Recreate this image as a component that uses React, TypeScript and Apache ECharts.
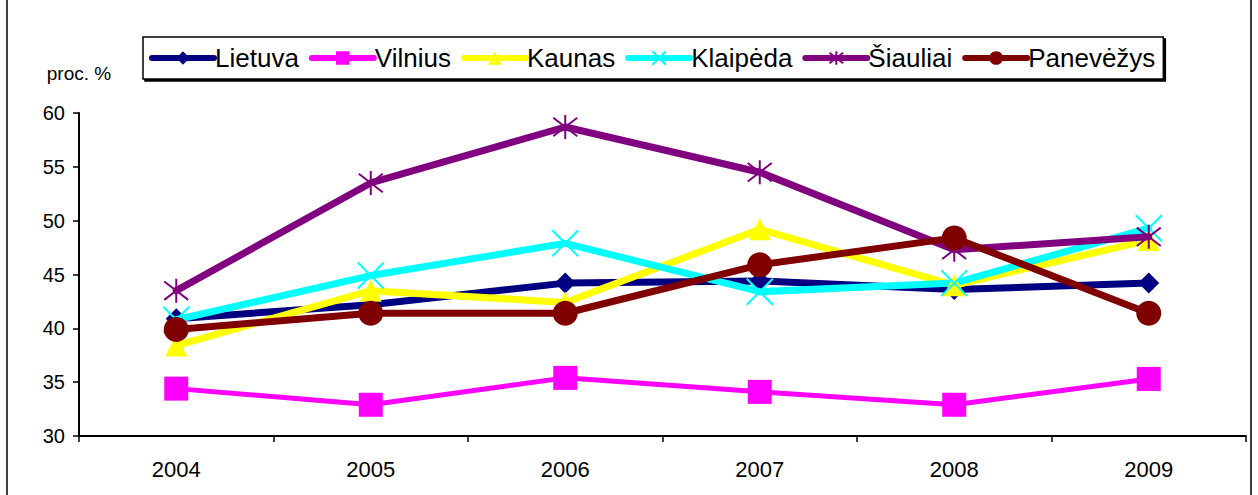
import React, { useEffect, useRef } from "react";
import * as echarts from "echarts";

const years = ["2004", "2005", "2006", "2007", "2008", "2009"];
const lietuva = [40.9, 42.2, 44.2, 44.4, 43.6, 44.2];
const vilnius = [34.4, 32.9, 35.4, 34.1, 32.9, 35.3];
const kaunas = [38.4, 43.5, 42.4, 49.2, 44.0, 48.2];
const klaipeda = [40.8, 44.9, 47.9, 43.4, 44.2, 49.3];
const siauliai = [43.5, 53.5, 58.7, 54.5, 47.3, 48.5];
const panevezys = [39.9, 41.4, 41.4, 45.9, 48.4, 41.4];

const FONT = "Liberation Sans, Arial, sans-serif";

export default function App() {
  const ref = useRef<HTMLDivElement>(null);
  useEffect(() => {
    const chart = echarts.init(ref.current!, null, { renderer: "svg" });
    const mk = (name: string, data: number[], color: string, symbol: string, size: number, extra: any = {}) => ({
      name,
      type: "line",
      data,
      symbol,
      symbolSize: size,
      lineStyle: { color, width: extra.lw ?? 7, cap: "round", join: "round" },
      itemStyle: { color, borderColor: color, borderWidth: extra.bw ?? 0 },
      z: extra.z ?? 2,
      emphasis: { disabled: true },
    });
    const xPath = "path://M0,0L10,10M10,0L0,10";
    const starPath = "path://M0,0L10,10M10,0L0,10M5,-1.5L5,11.5";
    chart.setOption({
      animation: false,
      textStyle: { fontFamily: FONT },
      legend: {
        top: 37,
        left: 143,
        itemWidth: 62,
        itemHeight: 17,
        itemGap: 10,
        padding: [8, 8, 8, 6],
        borderColor: "#000",
        borderWidth: 1.5,
        shadowColor: "#000",
        shadowOffsetX: 2,
        shadowOffsetY: 2,
        shadowBlur: 0,
        backgroundColor: "#fff",
        lineStyle: { width: 6, cap: "round" },
        textStyle: { fontSize: 26, color: "#000", fontFamily: FONT, padding: [0, 0, 0, -4] },
        data: ["Lietuva", "Vilnius", "Kaunas", "Klaipėda", "Šiauliai", "Panevėžys"],
      },
      grid: { left: 79, right: 12, top: 113, bottom: 59 },
      xAxis: {
        type: "category",
        data: years,
        boundaryGap: true,
        axisLine: { lineStyle: { color: "#000", width: 2 } },
        axisTick: { show: true, length: 6, lineStyle: { color: "#000", width: 1.5 } },
        axisLabel: { fontSize: 22, color: "#000", margin: 22, fontFamily: FONT },
      },
      yAxis: {
        type: "value",
        min: 30,
        max: 60,
        interval: 5,
        name: "proc. %",
        nameLocation: "end",
        nameGap: 30,
        nameTextStyle: { fontSize: 19, color: "#000", align: "center", fontFamily: FONT },
        axisLine: { show: true, lineStyle: { color: "#000", width: 2 } },
        axisTick: { show: true, length: 6, lineStyle: { color: "#000", width: 1.5 } },
        axisLabel: { fontSize: 20, color: "#000", margin: 14, fontFamily: FONT },
        splitLine: { show: false },
      },
      series: [
        mk("Lietuva", lietuva, "#000080", "diamond", 21, { z: 3 }),
        mk("Vilnius", vilnius, "#ff00ff", "rect", 24, { lw: 5 }),
        mk("Kaunas", kaunas, "#ffff00", "triangle", 22, { z: 4 }),
        mk("Klaipėda", klaipeda, "#00ffff", xPath, 26, { bw: 2, z: 4 }),
        mk("Šiauliai", siauliai, "#800080", starPath, 24, { bw: 2, z: 5 }),
        mk("Panevėžys", panevezys, "#800000", "circle", 25, { z: 6 }),
      ],
      graphic: [
        {
          type: "rect",
          shape: { x: 7, y: -2, width: 1244, height: 510 },
          style: { fill: "none", stroke: "#000", lineWidth: 1.5 },
          silent: true,
        },
      ],
    });
    return () => chart.dispose();
  }, []);
  return (
    <div
      ref={ref}
      style={{ position: "absolute", left: 0, top: 0, width: 1258, height: 495, background: "#fff" }}
    />
  );
}
